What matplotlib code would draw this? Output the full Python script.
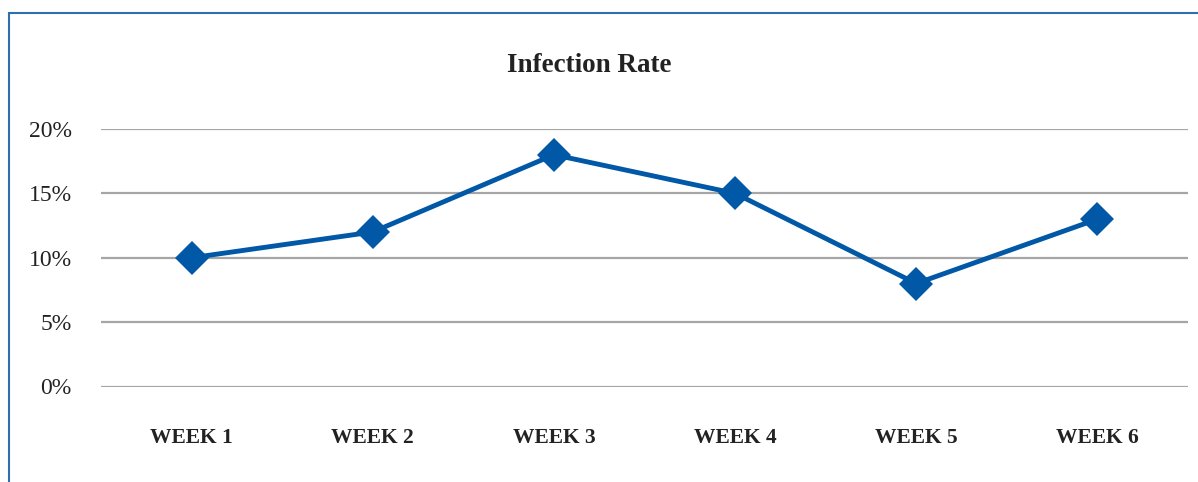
import matplotlib.pyplot as plt
from matplotlib.patches import Rectangle
from matplotlib.ticker import PercentFormatter

weeks = ["WEEK 1", "WEEK 2", "WEEK 3", "WEEK 4", "WEEK 5", "WEEK 6"]
infection_rate = [0.10, 0.12, 0.18, 0.15, 0.08, 0.13]
y_ticks = [0.0, 0.05, 0.10, 0.15, 0.20]

plt.rcParams["font.family"] = ["Liberation Serif", "DejaVu Serif"]

W, H = 1198, 482
fig = plt.figure(figsize=(W / 100, H / 100), dpi=100)

# outer frame (only left and top edges are visible in the crop)
fig.patches.append(Rectangle((9 / W, -0.1), 1.2, 1 - 13 / H + 0.1,
                             transform=fig.transFigure, fill=False,
                             edgecolor="#2f6fb0", linewidth=1.5))

ax = fig.add_axes([101 / W, 1 - 386.5 / H, (1188 - 101) / W, (386.5 - 129) / H])

x = range(len(weeks))
ax.plot(x, infection_rate, color="#0058a6", linewidth=3.5,
        marker="D", markersize=17, markeredgewidth=0, zorder=3)

ax.set_xlim(-0.5, len(weeks) - 0.5)
ax.set_ylim(0, 0.20)
ax.set_yticks(y_ticks)
ax.yaxis.set_major_formatter(PercentFormatter(1.0, decimals=0))
ax.set_xticks(list(x))
ax.set_xticklabels(weeks, fontweight="bold", fontsize=15.5, color="#222222")
ax.grid(axis="y", color="#a6a6a6", linewidth=1.6)
ax.set_axisbelow(True)

for s in ax.spines.values():
    s.set_visible(False)
ax.tick_params(axis="both", length=0)
ax.tick_params(axis="y", pad=21, labelsize=17, labelcolor="#222222")
ax.tick_params(axis="x", pad=30)

fig.text(589 / W, 1 - 65 / H, "Infection Rate", ha="center", va="center",
         fontsize=19.5, fontweight="bold", color="#222222")

fig.savefig("out.png", dpi=100)
